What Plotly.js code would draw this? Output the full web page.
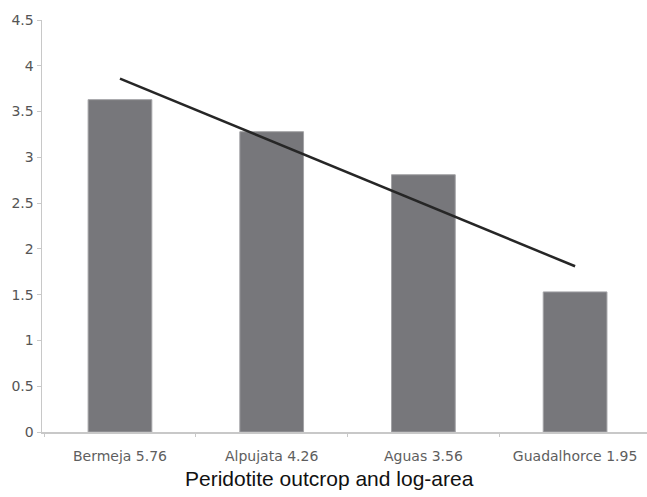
<!DOCTYPE html>
<html>
<head>
<meta charset="utf-8">
<script src="https://cdn.plot.ly/plotly-3.0.1.min.js"></script>
<style>html,body{margin:0;padding:0;background:#fff;}#chart{width:647px;height:497px;}</style>
</head>
<body>
<div id="chart"></div>
<script>
const categories = ["Bermeja 5.76", "Alpujata 4.26", "Aguas 3.56", "Guadalhorce 1.95"];
const barValues = [3.63, 3.28, 2.81, 1.53];
const trendX = ["Bermeja 5.76", "Guadalhorce 1.95"];
const trendValues = [3.86, 1.81];
const yTicks = [0, 0.5, 1, 1.5, 2, 2.5, 3, 3.5, 4, 4.5];
const yTickLabels = ["0", "0.5", "1", "1.5", "2", "2.5", "3", "3.5", "4", "4.5"];

const traces = [
  {
    type: "bar",
    x: categories,
    y: barValues,
    width: 0.42,
    marker: {color: "#77777b", line: {color: "#a3a3a6", width: 1}},
    hoverinfo: "x+y"
  },
  {
    type: "scatter",
    mode: "lines",
    x: trendX,
    y: trendValues,
    line: {color: "#262626", width: 2.5},
    hoverinfo: "skip"
  }
];

const layout = {
  width: 647,
  height: 497,
  margin: {l: 42, r: 0, t: 20, b: 65, pad: 0},
  paper_bgcolor: "#ffffff",
  plot_bgcolor: "#ffffff",
  showlegend: false,
  xaxis: {
    type: "category",
    range: [-0.514, 3.474],
    tickson: "boundaries",
    ticks: "outside",
    ticklen: 3,
    tickcolor: "#c8c8c8",
    showline: true,
    linecolor: "#c8c8c8",
    linewidth: 1.5,
    showgrid: false,
    zeroline: false,
    ticklabelstandoff: 11,
    tickfont: {family: "DejaVu Sans", size: 14, color: "#5e5e5e"},
    fixedrange: true
  },
  yaxis: {
    range: [0, 4.5],
    tickmode: "array",
    tickvals: yTicks,
    ticktext: yTickLabels,
    ticks: "outside",
    ticklen: 4,
    tickcolor: "#c8c8c8",
    showline: true,
    linecolor: "#c8c8c8",
    linewidth: 1.5,
    showgrid: false,
    zeroline: false,
    tickfont: {family: "DejaVu Sans", size: 14, color: "#555555"},
    fixedrange: true
  },
  annotations: [
    {
      text: "Peridotite outcrop and log-area",
      xref: "paper", yref: "paper",
      x: 0.476, y: -0.112,
      xanchor: "center", yanchor: "middle",
      showarrow: false,
      font: {family: "Liberation Sans", size: 21, color: "#111111"}
    }
  ]
};

Plotly.newPlot("chart", traces, layout, {displayModeBar: false, staticPlot: true});
</script>
</body>
</html>
